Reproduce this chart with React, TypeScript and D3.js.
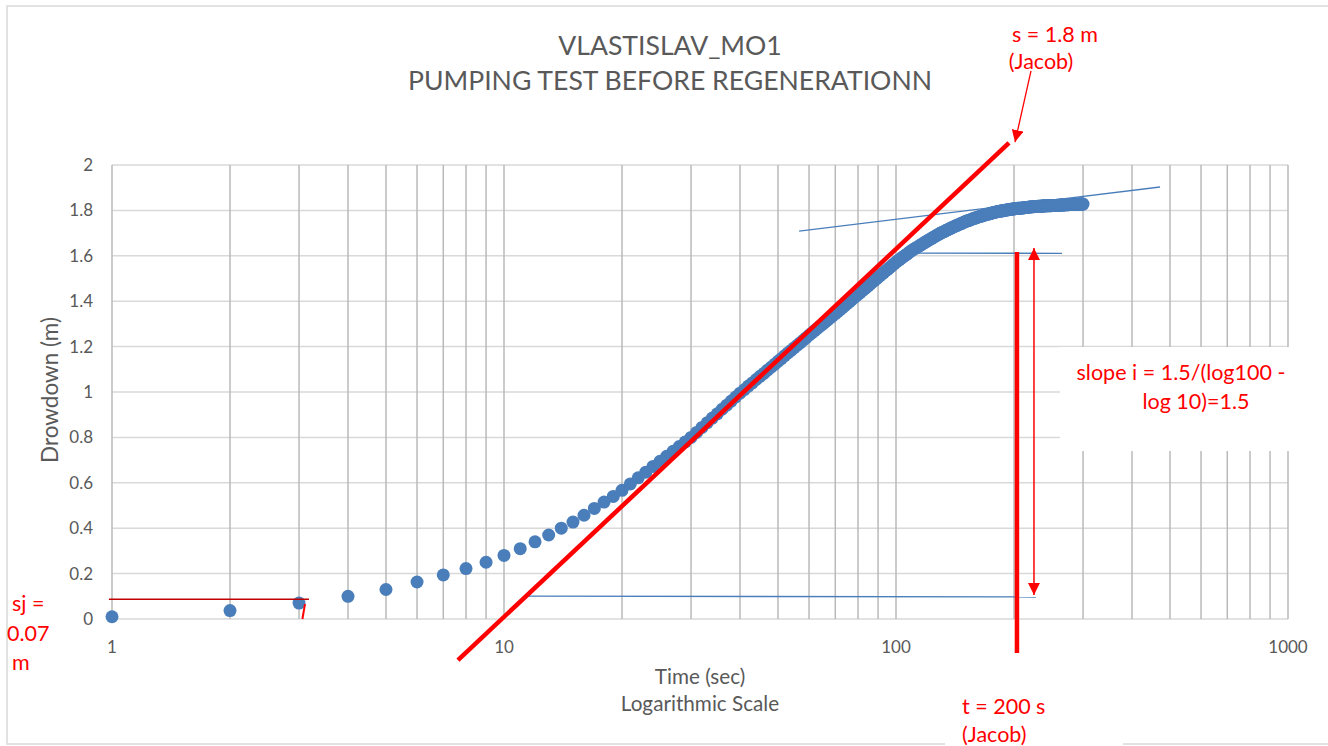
import React from "react";
import * as d3 from "d3";

// ---------- text ----------
const TITLE_LINES = ["VLASTISLAV_MO1", "PUMPING TEST BEFORE REGENERATIONN"];
const X_LABEL = "Time (sec)";
const X_SUBLABEL = "Logarithmic Scale";
const Y_LABEL = "Drowdown (m)";
const S_LABEL = ["s = 1.8 m", "(Jacob)"];
const SLOPE_LABEL = ["slope i = 1.5/(log100 -", "log 10)=1.5"];
const T_LABEL = ["t = 200 s", "(Jacob)"];
const SJ_LABEL = ["sj =", "0.07", "m"];

// ---------- axes ----------
const X_DOMAIN = [1, 1000];
const Y_DOMAIN = [0, 2];
const X_TICK_VALUES = [1, 10, 100, 1000];
const Y_TICK_VALUES = [0, 0.2, 0.4, 0.6, 0.8, 1, 1.2, 1.4, 1.6, 1.8, 2];

// ---------- data: one reading per second, starting at t = 1 s ----------
const FIRST_TIME_S = 1;
const TIME_STEP_S = 1;
const DRAWDOWN_M = [
  0.010, 0.037, 0.070, 0.100, 0.130, 0.163, 0.194, 0.222, 0.250, 0.280,
  0.310, 0.340, 0.370, 0.400, 0.427, 0.457, 0.487, 0.515, 0.540, 0.567,
  0.595, 0.622, 0.647, 0.672, 0.695, 0.717, 0.739, 0.760, 0.780, 0.800,
  0.822, 0.844, 0.865, 0.885, 0.904, 0.924, 0.942, 0.960, 0.978, 0.995,
  1.010, 1.026, 1.040, 1.055, 1.069, 1.082, 1.096, 1.109, 1.122, 1.135,
  1.147, 1.160, 1.172, 1.183, 1.195, 1.206, 1.217, 1.228, 1.239, 1.250,
  1.260, 1.270, 1.280, 1.290, 1.299, 1.309, 1.318, 1.327, 1.336, 1.345,
  1.354, 1.363, 1.372, 1.380, 1.389, 1.397, 1.406, 1.414, 1.422, 1.430,
  1.438, 1.446, 1.453, 1.461, 1.469, 1.476, 1.484, 1.491, 1.498, 1.505,
  1.512, 1.519, 1.526, 1.533, 1.539, 1.546, 1.552, 1.559, 1.565, 1.572,
  1.578, 1.583, 1.588, 1.594, 1.599, 1.604, 1.609, 1.615, 1.620, 1.625,
  1.629, 1.633, 1.637, 1.641, 1.645, 1.649, 1.653, 1.657, 1.661, 1.665,
  1.669, 1.672, 1.676, 1.679, 1.683, 1.686, 1.690, 1.693, 1.697, 1.700,
  1.703, 1.705, 1.708, 1.711, 1.714, 1.716, 1.719, 1.722, 1.724, 1.727,
  1.729, 1.732, 1.734, 1.736, 1.739, 1.741, 1.743, 1.745, 1.748, 1.750,
  1.752, 1.754, 1.755, 1.757, 1.759, 1.761, 1.763, 1.764, 1.766, 1.768,
  1.769, 1.771, 1.772, 1.774, 1.775, 1.776, 1.778, 1.779, 1.781, 1.782,
  1.783, 1.784, 1.785, 1.786, 1.788, 1.789, 1.790, 1.791, 1.792, 1.793,
  1.794, 1.795, 1.795, 1.796, 1.797, 1.798, 1.799, 1.799, 1.800, 1.801,
  1.802, 1.802, 1.803, 1.803, 1.804, 1.805, 1.805, 1.806, 1.806, 1.807,
  1.807, 1.808, 1.808, 1.809, 1.809, 1.809, 1.810, 1.810, 1.811, 1.811,
  1.811, 1.812, 1.812, 1.813, 1.813, 1.813, 1.814, 1.814, 1.815, 1.815,
  1.815, 1.816, 1.816, 1.816, 1.816, 1.817, 1.817, 1.817, 1.817, 1.818,
  1.818, 1.818, 1.818, 1.818, 1.819, 1.819, 1.819, 1.819, 1.820, 1.820,
  1.820, 1.820, 1.820, 1.821, 1.821, 1.821, 1.821, 1.821, 1.821, 1.822,
  1.822, 1.822, 1.822, 1.822, 1.822, 1.822, 1.823, 1.823, 1.823, 1.823,
  1.823, 1.823, 1.824, 1.824, 1.824, 1.824, 1.824, 1.824, 1.824, 1.825,
  1.825, 1.825, 1.825, 1.825, 1.825, 1.825, 1.826, 1.826, 1.826, 1.826,
  1.826, 1.826, 1.826, 1.826, 1.827, 1.827, 1.827, 1.827, 1.827, 1.827,
  1.827, 1.827, 1.827, 1.828, 1.828, 1.828, 1.828, 1.828, 1.828, 1.828,
];

// ---------- hand-drawn annotations, in data units [time s, drawdown m] ----------
const JACOB_LINE = [[7.63, -0.181], [194.2, 2.097]];
const UPPER_TANGENT = [[56.6, 1.709], [471.6, 1.903]];
const MID_LEVEL_LINE = [[109.9, 1.612], [265.1, 1.611]];
const LOW_LEVEL_LINE = [[11.45, 0.101], [227.6, 0.097]];
const JACOB_TIME_LINE = [[203.5, 1.617], [203.5, -0.15]];
const SLOPE_ARROW = [[224.9, 1.634], [224.9, 0.106]];
const S_ARROW = [[221, 2.415], [201.2, 2.101]];
const SJ_LEVEL_LINE = [[0.982, 0.087], [3.18, 0.087]];
const SJ_TICK = [[3.107, 0.066], [3.06, 0]];

// ---------- layout ----------
const W = 1328;
const H = 746;
const PLOT = { left: 112, right: 1288, top: 165, bottom: 619 };
const FONT = "Lato, 'Open Sans', sans-serif";
const GREY_TEXT = "#595959";
const RED = "#ff0000";
const BLUE = "#4a7ebb";

export default function App() {
  const x = d3.scaleLog().domain(X_DOMAIN).range([PLOT.left, PLOT.right]);
  const y = d3.scaleLinear().domain(Y_DOMAIN).range([PLOT.bottom, PLOT.top]);
  const line = d3
    .line<number[]>()
    .x((d) => x(d[0]))
    .y((d) => y(d[1]));

  const points = DRAWDOWN_M.map((s, i) => ({
    t: FIRST_TIME_S + i * TIME_STEP_S,
    s,
  }));
  const xGrid = x.ticks();

  return (
    <svg
      width={W}
      height={H}
      style={{ position: "absolute", left: 0, top: 0, background: "#fff" }}
      fontFamily={FONT}
    >
      <defs>
        <marker
          id="arrow"
          viewBox="0 0 12 12"
          refX="12"
          refY="6"
          markerWidth="12"
          markerHeight="12"
          markerUnits="userSpaceOnUse"
          orient="auto-start-reverse"
        >
          <path d="M0,0 L12,6 L0,12 Z" fill={RED} />
        </marker>
      </defs>

      {/* chart border */}
      <rect x={7} y={6} width={1340} height={738} fill="#fff" stroke="#d9d9d9" strokeWidth={1.5} />

      {/* title */}
      {TITLE_LINES.map((t, i) => (
        <text key={t} x={670} y={55 + i * 35} textAnchor="middle" fontSize={26.6} fill={GREY_TEXT}>
          {t}
        </text>
      ))}

      {/* horizontal gridlines */}
      {Y_TICK_VALUES.map((v) => (
        <line key={"h" + v} x1={PLOT.left} x2={PLOT.right} y1={y(v)} y2={y(v)} stroke="#d9d9d9" strokeWidth={1.5} />
      ))}
      {/* vertical gridlines */}
      {xGrid.map((v) => (
        <line key={"v" + v} x1={x(v)} x2={x(v)} y1={PLOT.top} y2={PLOT.bottom} stroke="#bababa" strokeWidth={1.5} />
      ))}

      {/* y tick labels */}
      {Y_TICK_VALUES.map((v) => (
        <text key={"yl" + v} x={93} y={y(v)} dy="0.35em" textAnchor="end" fontSize={17} fill={GREY_TEXT}>
          {String(+v.toFixed(1))}
        </text>
      ))}
      {/* x tick labels */}
      {X_TICK_VALUES.map((v) => (
        <text key={"xl" + v} x={x(v)} y={653} textAnchor="middle" fontSize={17} fill={GREY_TEXT}>
          {String(v)}
        </text>
      ))}

      {/* axis titles */}
      <text x={700} y={684} textAnchor="middle" fontSize={20.7} fill={GREY_TEXT}>
        {X_LABEL}
      </text>
      <text x={700} y={711} textAnchor="middle" fontSize={20.7} fill={GREY_TEXT}>
        {X_SUBLABEL}
      </text>
      <text
        transform="translate(50,390) rotate(-90)"
        textAnchor="middle"
        dy="0.35em"
        fontSize={22.5}
        fill={GREY_TEXT}
      >
        {Y_LABEL}
      </text>

      {/* data */}
      {points.map((p) => (
        <circle key={p.t} cx={x(p.t)} cy={y(p.s)} r={6.5} fill={BLUE} />
      ))}

      {/* annotations */}
      <path d={line(UPPER_TANGENT as any) || ""} stroke={BLUE} strokeWidth={1.3} fill="none" />
      <path d={line(MID_LEVEL_LINE as any) || ""} stroke={BLUE} strokeWidth={1.3} fill="none" />
      <path d={line(LOW_LEVEL_LINE as any) || ""} stroke={BLUE} strokeWidth={1.3} fill="none" />
      <path d={line(SJ_LEVEL_LINE as any) || ""} stroke="#c00000" strokeWidth={1.3} fill="none" />
      <path d={line(SJ_TICK as any) || ""} stroke={RED} strokeWidth={2} fill="none" />
      <path d={line(JACOB_LINE as any) || ""} stroke={RED} strokeWidth={4.5} fill="none" />
      <path d={line(JACOB_TIME_LINE as any) || ""} stroke={RED} strokeWidth={4.5} fill="none" />
      <path
        d={line(SLOPE_ARROW as any) || ""}
        stroke={RED}
        strokeWidth={1.5}
        fill="none"
        markerStart="url(#arrow)"
        markerEnd="url(#arrow)"
      />
      <path d={line(S_ARROW as any) || ""} stroke={RED} strokeWidth={1.3} fill="none" markerEnd="url(#arrow)" />

      {/* text boxes */}
      <rect x={1060} y={347} width={260} height={104} fill="#fff" />
      <rect x={945} y={684} width={178} height={62} fill="#fff" />

      {/* red annotation text */}
      <g fill={RED} fontSize={21.5}>
        <text x={1055} y={42} textAnchor="middle">{S_LABEL[0]}</text>
        <text x={1041} y={69} textAnchor="middle">{S_LABEL[1]}</text>
        <text x={1181} y={380} textAnchor="middle">{SLOPE_LABEL[0]}</text>
        <text x={1196} y={409} textAnchor="middle">{SLOPE_LABEL[1]}</text>
        <text x={962} y={714}>{T_LABEL[0]}</text>
        <text x={962} y={742}>{T_LABEL[1]}</text>
        <text x={12} y={611}>{SJ_LABEL[0]}</text>
        <text x={7} y={641}>{SJ_LABEL[1]}</text>
        <text x={12} y={670}>{SJ_LABEL[2]}</text>
      </g>
    </svg>
  );
}
